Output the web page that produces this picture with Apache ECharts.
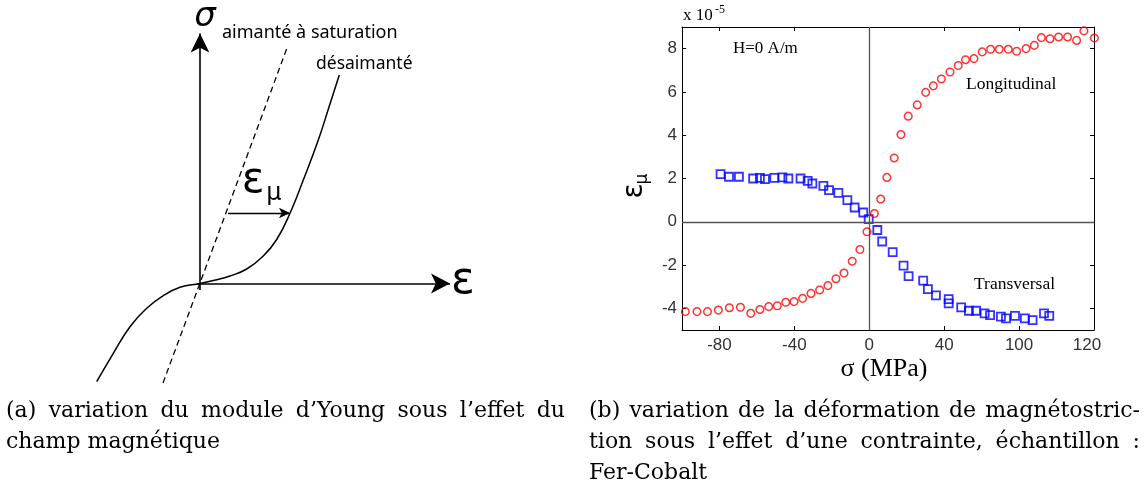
<!DOCTYPE html>
<html><head><meta charset="utf-8">
<script src="https://cdn.jsdelivr.net/npm/echarts@6/dist/echarts.min.js"></script>
<style>html,body{margin:0;padding:0;background:#fff}#c{width:1148px;height:490px}</style>
</head><body><div id="c"></div>
<script>
// ---------- Panel (a): schematic, arbitrary units (ε horizontal, σ vertical) ----------
const demagEps = [-10.33, -8.67, -7.0, -5.33, -3.67, -2.0, 0, 1.33, 3.0, 4.67, 6.33, 7.67, 9.0, 10.33, 11.83, 12.9, 13.93];
const demagSig = [-9.82, -6.98, -4.32, -2.48, -1.22, -0.38, 0, 0.3, 0.75, 1.45, 2.75, 4.4, 7.02, 10.35, 14.35, 17.65, 20.85];
const satEps = [-3.7, 8.7];
const satSig = [-9.95, 23.55];
const axisEpsEnd = 25.0;   // ε axis arrow tip
const axisSigEnd = 25.0;   // σ axis arrow tip
const epsMuFrom = [2.8, 7.05];
const epsMuTo = [9.0, 7.05];

// ---------- Panel (b): magnetostriction vs stress (x 1e-5) ----------
const longSigma = [-98.2, -92.0, -86.4, -80.6, -74.7, -68.8, -63.3, -58.4, -53.7, -49.1, -44.6, -40.2, -35.6, -31.1, -26.5, -22.1, -17.8, -13.5, -9.1, -5.0, -1.2, 2.7, 6.1, 9.4, 13.3, 16.9, 20.8, 25.6, 30.1, 34.2, 38.5, 43.1, 47.5, 51.4, 55.9, 60.3, 64.8, 69.4, 74.2, 78.7, 83.7, 88.1, 91.9, 96.5, 101.1, 105.9, 110.7, 114.6, 120.2];
const longEps = [-4.15, -4.15, -4.15, -4.08, -3.97, -3.95, -4.23, -4.05, -3.92, -3.88, -3.72, -3.69, -3.54, -3.31, -3.15, -2.95, -2.63, -2.37, -1.82, -1.28, -0.46, 0.38, 1.05, 2.05, 2.95, 4.03, 4.88, 5.40, 5.98, 6.28, 6.60, 6.92, 7.22, 7.49, 7.54, 7.85, 7.97, 7.97, 7.97, 7.88, 8.00, 8.15, 8.51, 8.46, 8.54, 8.54, 8.38, 8.82, 8.49];
const transSigma = [-79.4, -74.9, -69.6, -62.0, -58.4, -55.7, -50.7, -46.4, -43.2, -36.7, -32.9, -30.4, -24.5, -21.5, -16.5, -11.7, -7.8, -3.2, -0.3, 4.3, 6.9, 12.5, 18.3, 21.0, 28.8, 31.3, 35.6, 42.4, 42.4, 49.1, 53.2, 57.0, 61.6, 64.5, 70.3, 73.0, 77.8, 83.1, 87.2, 93.3, 96.1];
const transEps = [2.20, 2.08, 2.08, 2.00, 2.03, 1.97, 2.03, 2.05, 2.00, 2.00, 1.89, 1.77, 1.66, 1.46, 1.34, 1.00, 0.66, 0.43, 0.12, -0.38, -0.91, -1.40, -2.03, -2.51, -2.72, -3.11, -3.40, -3.57, -3.77, -3.95, -4.11, -4.11, -4.23, -4.31, -4.38, -4.46, -4.35, -4.46, -4.54, -4.23, -4.35];
const xTickValues = [-80, -40, 0, 40, 80, 120];
const xTickLabels = ['-80', '-40', '0', '40', '100', '120'];
const yTickValues = [-4, -2, 0, 2, 4, 6, 8];
const yTickLabels = ['-4', '-2', '0', '2', '4', '6', '8'];

const zip = (a, b) => a.map((v, i) => [v, b[i]]);
const chart = echarts.init(document.getElementById('c'), null, {renderer: 'canvas'});

const serif = '"DejaVu Serif", serif';
const lserif = '"Liberation Serif", serif';
const sans = '"DejaVu Sans", sans-serif';
const lsans = '"Liberation Sans", sans-serif';

const tickCommon = {show: true, inside: true, length: 4, lineStyle: {color: '#000', width: 1}};

function txt(text, x, y, font, opts) {
  opts = opts || {};
  return {type: 'text', x: x, y: y, rotation: opts.rotation || 0, silent: true, z: 100,
    style: {text: text, font: font, fill: opts.fill || '#000', align: opts.align || 'left', verticalAlign: opts.va || 'middle'}};
}
const mctx = document.createElement('canvas').getContext('2d');
function justified(line, x0, x1, y, font) {
  const words = line.split(' ');
  mctx.font = font;
  const w = words.map(s => mctx.measureText(s).width);
  const total = w.reduce((a, b) => a + b, 0);
  const gap = (x1 - x0 - total) / (words.length - 1);
  let x = x0;
  return words.map((s, i) => { const el = txt(s, x, y, font); x += w[i] + gap; return el; });
}

const capFont = '22px ' + serif;
const demagData = zip(demagEps, demagSig);

const option = {
  animation: false,
  backgroundColor: '#fff',
  grid: [
    {left: 0, top: 3.5, width: 480, height: 390},
    {left: 682, top: 27, width: 412, height: 303}
  ],
  xAxis: [
    {gridIndex: 0, type: 'value', min: -20, max: 28, show: false},
    {gridIndex: 1, type: 'value', min: -100, max: 120, position: 'bottom',
      axisLine: {show: true, onZero: false, lineStyle: {color: '#000', width: 1}},
      axisTick: Object.assign({customValues: xTickValues}, tickCommon),
      axisLabel: {customValues: xTickValues, margin: 7, color: '#333', fontFamily: lsans, fontSize: 17,
        formatter: v => { const i = xTickValues.indexOf(v); const s = i >= 0 ? xTickLabels[i] : ''; return i === xTickValues.length - 1 ? '{last|' + s + '}' : s; },
        rich: {last: {fontFamily: lsans, fontSize: 17, color: '#333', padding: [0, 14, 6, 0]}}},
      splitLine: {show: false}},
    {gridIndex: 1, type: 'value', min: -100, max: 120, position: 'top',
      axisLine: {show: true, onZero: false, lineStyle: {color: '#000', width: 1}},
      axisTick: Object.assign({customValues: xTickValues}, tickCommon),
      axisLabel: {show: false}, splitLine: {show: false}}
  ],
  yAxis: [
    {gridIndex: 0, type: 'value', min: -11, max: 28, show: false},
    {gridIndex: 1, type: 'value', min: -5, max: 9, position: 'left',
      axisLine: {show: true, onZero: false, lineStyle: {color: '#000', width: 1}},
      axisTick: Object.assign({customValues: yTickValues}, tickCommon),
      axisLabel: {customValues: yTickValues, margin: 5, color: '#333', fontFamily: lsans, fontSize: 17,
        formatter: v => { const i = yTickValues.indexOf(v); return i >= 0 ? yTickLabels[i] : ''; }},
      splitLine: {show: false}},
    {gridIndex: 1, type: 'value', min: -5, max: 9, position: 'right',
      axisLine: {show: true, onZero: false, lineStyle: {color: '#000', width: 1}},
      axisTick: Object.assign({customValues: yTickValues}, tickCommon),
      axisLabel: {show: false}, splitLine: {show: false}}
  ],
  series: [
    {name: 'désaimanté', type: 'custom', xAxisIndex: 0, yAxisIndex: 0, data: demagData, z: 3,
      encode: {x: 0, y: 1}, silent: true, clip: false,
      renderItem: function (params, api) {
        if (params.dataIndex !== 0) return null;
        const pts = demagData.map(d => api.coord(d));
        return {type: 'polyline', shape: {points: pts, smooth: 0.45},
          style: {stroke: '#000', lineWidth: 1.5, fill: null}};
      }},
    {name: 'aimanté à saturation', type: 'line', xAxisIndex: 0, yAxisIndex: 0, data: zip(satEps, satSig),
      symbol: 'none', lineStyle: {color: '#000', width: 1.3, type: [6, 4]}, z: 3,
      markLine: {silent: true, animation: false, symbol: ['none', 'arrow'], symbolSize: 16, label: {show: false},
        lineStyle: {color: '#000', width: 1.6, type: 'solid'},
        emphasis: {disabled: true},
        data: [
          [{coord: [-0.3, 0]}, {coord: [axisEpsEnd, 0], symbolSize: [15, 19]}],
          [{coord: [0, -0.65]}, {coord: [0, axisSigEnd], symbolSize: [14, 19]}],
          [{coord: epsMuFrom, lineStyle: {width: 1.3}}, {coord: epsMuTo, symbolSize: [8, 11]}]
        ]}},
    {name: 'zero', type: 'line', xAxisIndex: 1, yAxisIndex: 1, data: [], z: 1,
      markLine: {silent: true, animation: false, symbol: 'none', label: {show: false},
        lineStyle: {color: '#555', width: 1.3, type: 'solid'},
        data: [{xAxis: 0}, {yAxis: 0}]}},
    {name: 'Transversal', type: 'scatter', xAxisIndex: 1, yAxisIndex: 1, data: zip(transSigma, transEps),
      symbol: 'rect', symbolSize: 8, clip: false, z: 4,
      itemStyle: {color: 'rgba(0,0,0,0)', borderColor: '#0000ff', borderWidth: 1.8}},
    {name: 'Longitudinal', type: 'scatter', xAxisIndex: 1, yAxisIndex: 1, data: zip(longSigma, longEps),
      symbol: 'circle', symbolSize: 7.6, clip: false, z: 5,
      itemStyle: {color: 'rgba(0,0,0,0)', borderColor: '#ff0000', borderWidth: 1.5}}
  ],
  graphic: [
    // panel (a) annotations
    txt('σ', 205, 17, 'italic 34px ' + sans, {align: 'center'}),
    txt('aimanté à saturation', 222, 33, '18px "Noto Sans", sans-serif'),
    txt('désaimanté', 316, 64, '17.5px "Noto Sans", sans-serif'),
    txt('ε', 463, 282, '44px ' + sans, {align: 'center'}),
    txt('ε', 253, 181, '42px ' + sans, {align: 'center'}),
    txt('μ', 274, 194, '24px ' + sans, {align: 'center'}),
    // panel (b) annotations
    txt('x 10', 683, 16, '17px ' + lserif),
    txt('-5', 715, 10, '12px ' + lserif),
    txt('H=0 A/m', 733, 49, '17px ' + lserif),
    txt('Longitudinal', 966, 84, '17.5px ' + lserif),
    txt('Transversal', 974, 284, '17.5px ' + lserif),
    txt('σ (MPa)', 884, 369, '26px ' + lserif, {align: 'center'}),
    txt('ε', 635, 191, '28px ' + sans, {align: 'center', rotation: Math.PI / 2}),
    txt('μ', 643, 179, '17px ' + sans, {align: 'center', rotation: Math.PI / 2}),
    // captions
    ...justified('(a) variation du module d\u2019Young sous l\u2019effet du', 6, 565, 411, capFont),
    txt('champ magnétique', 6, 442, capFont),
    ...justified('(b) variation de la déformation de magnétostric-', 589, 1140, 411, capFont),
    ...justified('tion sous l\u2019effet d\u2019une contrainte, échantillon :', 589, 1140, 442, capFont),
    txt('Fer-Cobalt', 589, 473, capFont)
  ]
};
chart.setOption(option);
</script>
</body></html>
